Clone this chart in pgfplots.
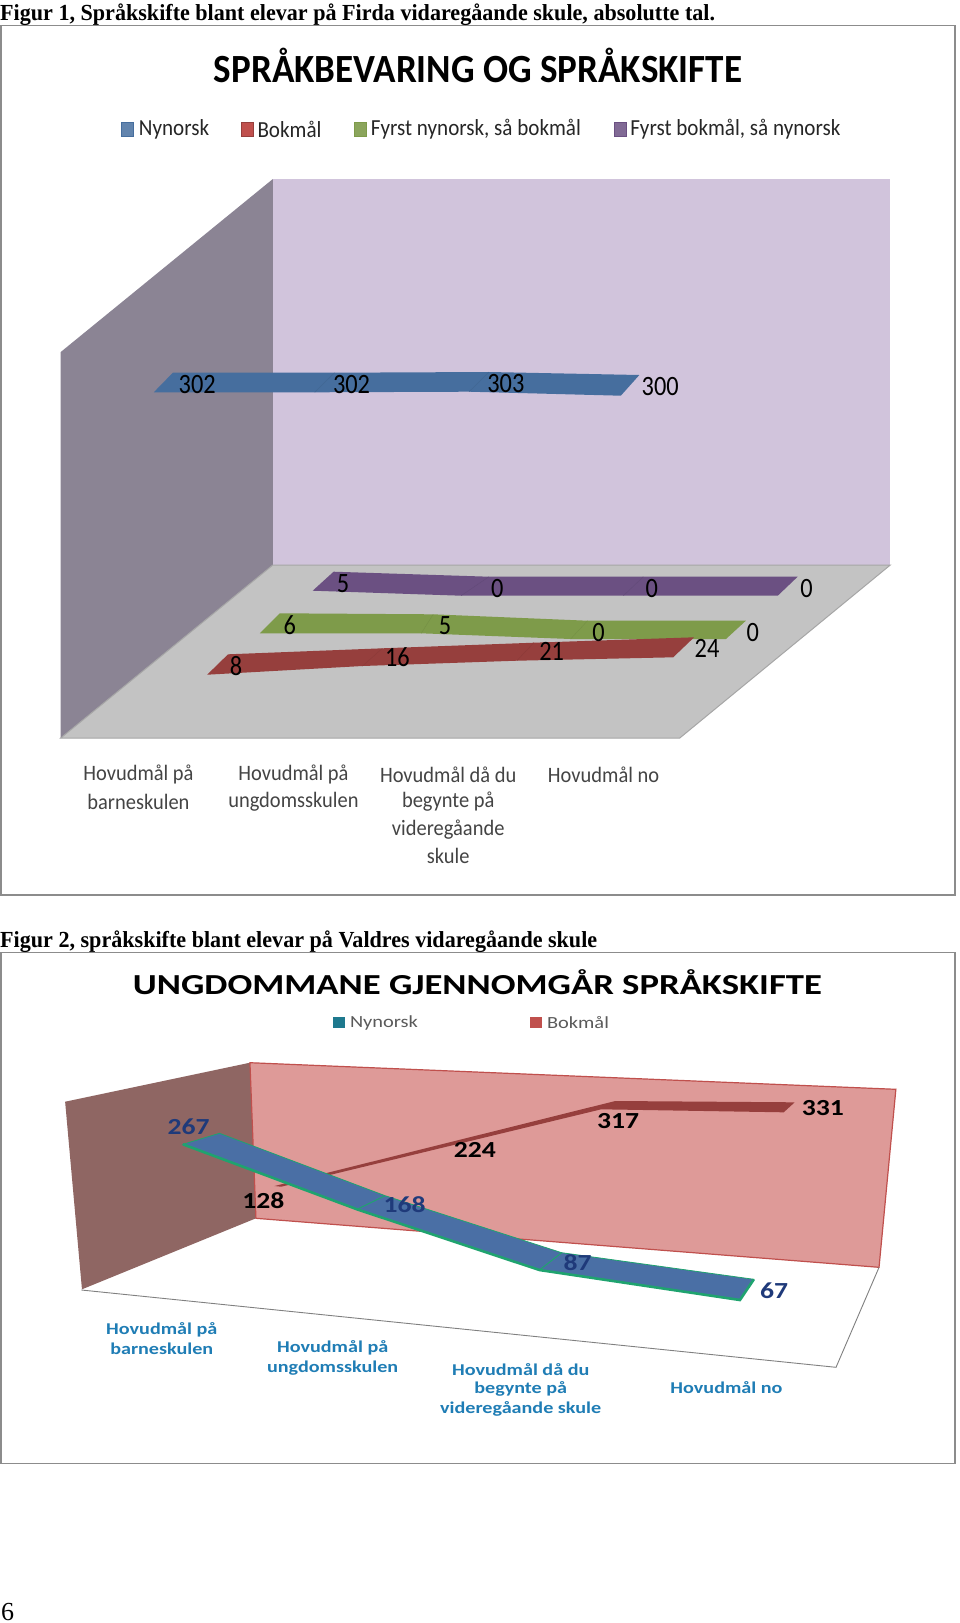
\documentclass[border=0pt]{standalone}
\usepackage{fontspec}
\setmainfont{Carlito}
\newfontfamily\capfont{Liberation Serif}
\usepackage{pgfplots}
\pgfplotsset{compat=1.18}
\definecolor{wallback}{HTML}{D1C4DC}
\definecolor{wallleft}{HTML}{8B8494}
\definecolor{floorc}{HTML}{C3C3C3}
\definecolor{flooredge}{HTML}{A6A6A6}
\definecolor{frame}{HTML}{8C8C8C}
\definecolor{ny}{HTML}{466E9E}
\definecolor{bm}{HTML}{963F3D}
\definecolor{gr}{HTML}{7E9B4A}
\definecolor{pu}{HTML}{6B5082}
\definecolor{wb2}{HTML}{DE9A98}
\definecolor{wl2}{HTML}{8F6663}
\definecolor{redge}{HTML}{C0504D}
\definecolor{gredge}{HTML}{1FA36F}
\definecolor{blue2}{HTML}{4A6FA5}
\definecolor{dblue}{HTML}{1F3A7A}
\definecolor{catblue}{HTML}{1F7DB5}
\definecolor{catgrey}{HTML}{444444}
\definecolor{leggrey}{HTML}{5A5A5A}
\newcommand{\sx}[2]{\scalebox{#1}[1]{#2}}
\pgfplotsset{
  poly/.style={mark=none,sharp plot,forget plot},
  vals/.style={only marks,mark=none,forget plot,nodes near coords={\scalebox{#1}[1]{\pgfplotspointmeta}},point meta=explicit symbolic,
     nodes near coords style={anchor=center,inner sep=0pt}},
}
\begin{document}
\begin{tikzpicture}[txt/.style={inner sep=0pt,align=center}]
\begin{axis}[hide axis,scale only axis,width=960pt,height=1623pt,xmin=0,xmax=964,ymin=0,ymax=1623,y dir=reverse,clip=true]
\addplot[poly,fill=white,draw=none] coordinates {(0,0)(964,0)(964,1623)(0,1623)} --cycle;
% frames
\addplot[poly,draw=frame,line width=1.3pt,fill=white] coordinates {(1,25.5)(959,25.5)(959,895)(1,895)} --cycle;
\addplot[poly,draw=frame,line width=1.1pt,fill=white] coordinates {(1,952.5)(959,952.5)(959,1463.5)(1,1463.5)} --cycle;
% chart 1 walls
\addplot[poly,fill=wallback,draw=none] coordinates {(274,179)(894,179)(894,565)(274,565)} --cycle;
\addplot[poly,fill=wallleft,draw=none] coordinates {(274,179)(61,352)(61,738)(274,565)} --cycle;
\addplot[poly,fill=floorc,draw=flooredge,line width=1pt] coordinates {(274,565)(894,565)(682.6,738)(61,738)} --cycle;
% chart 1 legend swatches
\addplot[poly,fill=ny!85!white,draw=ny] coordinates {(122,122)(134,122)(134,136)(122,136)} --cycle;
\addplot[poly,fill=redge,draw=bm] coordinates {(242,122)(254,122)(254,136)(242,136)} --cycle;
\addplot[poly,fill=gr!90!white,draw=gr] coordinates {(356,122)(368,122)(368,136)(356,136)} --cycle;
\addplot[poly,fill=pu!85!white,draw=pu] coordinates {(616.5,122)(628.5,122)(628.5,136)(616.5,136)} --cycle;
% chart 1 series ribbons
\addplot[poly,fill=pu,draw=none] coordinates {(335,571.7)(491,576.7)(646,576.7)(801,576.7)(781,595.7)(626,595.7)(463,595.7)(314,590.7)} --cycle;
\addplot[poly,draw=pu!92!black,line width=.4pt] coordinates {(491,576.7)(463,595.7)};
\addplot[poly,draw=pu!92!black,line width=.4pt] coordinates {(646,576.7)(626,595.7)};
\addplot[poly,fill=gr,draw=none] coordinates {(281,613.3)(435,614.3)(590,620.7)(749,620.7)(729,639)(573,639)(423,633.3)(261,633.3)} --cycle;
\addplot[poly,draw=gr!92!black,line width=.4pt] coordinates {(435,614.3)(423,633.3)};
\addplot[poly,draw=gr!92!black,line width=.4pt] coordinates {(590,620.7)(573,639)};
\addplot[poly,fill=bm,draw=none] coordinates {(229,654.3)(384,648.3)(536,642.7)(697,637.3)(676,657.3)(519,660.7)(364,666)(208,674.7)} --cycle;
\addplot[poly,draw=bm!92!black,line width=.4pt] coordinates {(384,648.3)(364,666)};
\addplot[poly,draw=bm!92!black,line width=.4pt] coordinates {(536,642.7)(519,660.7)};
\addplot[poly,fill=ny,draw=none] coordinates {(173.6,372.7)(336,372.7)(491,372)(642,375)(623.4,395.7)(471,391.7)(316,392.3)(154.4,392.3)} --cycle;
\addplot[poly,draw=ny!92!black,line width=.4pt] coordinates {(336,372.7)(316,392.3)};
\addplot[poly,draw=ny!92!black,line width=.4pt] coordinates {(491,372)(471,391.7)};
% chart 1 values
\addplot[vals=0.87,nodes near coords style={font=\fontsize{28}{28}\selectfont,text=black}] table[meta=v] {
x y v
198 384.5 302
353 384.5 302
508 383.8 303
663 386.5 300
};
\addplot[vals=0.87,nodes near coords style={font=\fontsize{28}{28}\selectfont,text=black}] table[meta=v] {
x y v
237 666 8
399 657.3 16
554 651.7 21
710 648.3 24
};
\addplot[vals=0.87,nodes near coords style={font=\fontsize{28}{28}\selectfont,text=black}] table[meta=v] {
x y v
291 625 6
447 626 5
601 632.7 0
756 632.3 0
};
\addplot[vals=0.87,nodes near coords style={font=\fontsize{28}{28}\selectfont,text=black}] table[meta=v] {
x y v
344.4 583.5 5
499.4 588.3 0
654.4 588.3 0
810 588.3 0
};
% chart 2 walls
\addplot[poly,fill=wl2,draw=none] coordinates {(65.4,1101.7)(251,1062.7)(257,1218.3)(82.3,1289.3)} --cycle;
\addplot[poly,fill=wb2,draw=redge,line width=1.2pt] coordinates {(251,1062.7)(899.6,1089.3)(882.7,1267.3)(257,1218.3)} --cycle;
\addplot[poly,draw=gray,line width=.9pt] coordinates {(81.8,1290)(839.5,1367.3)(882.7,1267.3)};
% chart 2 legend swatches
\addplot[poly,fill=teal!60!blue2,draw=none] coordinates {(334,1017)(346,1017)(346,1028)(334,1028)} --cycle;
\addplot[poly,fill=redge,draw=none] coordinates {(532.6,1017)(544,1017)(544,1028)(532.6,1028)} --cycle;
% chart 2 series ribbons
\addplot[poly,fill=bm,draw=none] coordinates {(275.6,1186)(617.8,1101)(798,1102.3)(787,1112.3)(603.7,1109.3)(282.4,1186.7)} --cycle;
\addplot[poly,fill=blue2,draw=gredge,line width=.8pt] coordinates {(220.4,1133.3)(386.7,1195.7)(564,1252.7)(757,1279.3)(743,1300)(541.7,1270)(358.5,1209.3)(183.7,1144.3)} --cycle;
\addplot[poly,draw=gredge,line width=2.6pt] coordinates {(757,1279.3)(743,1300)(541.7,1270)(358.5,1209.3)(183.7,1144.3)};
\addplot[poly,draw=gredge,line width=1pt] coordinates {(386.7,1195.7)(358.5,1209.3)};
\addplot[poly,draw=gredge,line width=1pt] coordinates {(564,1252.7)(541.7,1270)};
% chart 2 values
\addplot[vals=1.2,nodes near coords style={font=\bfseries\fontsize{23}{23}\selectfont,text=dblue}] table[meta=v] {
x y v
189.4 1126.7 267
406.4 1204.3 168
580 1262.7 87
777.3 1290.7 67
};
\addplot[vals=1.2,nodes near coords style={font=\bfseries\fontsize{23}{23}\selectfont,text=black}] table[meta=v] {
x y v
264.4 1201 128
476.9 1150 224
620.6 1121 317
826.4 1107.7 331
};
\end{axis}
% text in page units (1pt = 1 reference pixel, origin bottom-left)
\node[anchor=west,txt,font=\capfont\bfseries\fontsize{23}{23}\selectfont] at (0pt,{1623pt-14.5pt}) {\sx{0.961}{Figur 1, Språkskifte blant elevar på Firda vidaregåande skule, absolutte tal.}};
\node[anchor=west,txt,font=\capfont\bfseries\fontsize{23}{23}\selectfont] at (0pt,{1623pt-941.5pt}) {\sx{0.961}{Figur 2, språkskifte blant elevar på Valdres vidaregåande skule}};
\node[anchor=west,txt,font=\capfont\fontsize{26}{26}\selectfont] at (1pt,{1623pt-1612pt}) {6};
% chart 1 title and legend
\node[txt,font=\bfseries\fontsize{40}{40}\selectfont] at (478pt,{1623pt-65pt}) {\sx{0.927}{SPRÅKBEVARING OG SPRÅKSKIFTE}};
\foreach \x/\t in {174/Nynorsk,289.5/Bokmål,475.9/{Fyrst nynorsk, så bokmål},735.3/{Fyrst bokmål, så nynorsk}}
  \node[txt,text=black!85,font=\fontsize{23}{23}\selectfont] at (\x pt,{1623pt-129pt}) {\sx{0.917}{\t}};
% chart 1 categories
\foreach \x/\y/\t in {139/774.7/Hovudmål på,139/801.7/barneskulen,294.6/774.7/Hovudmål på,294.6/801.7/ungdomsskulen,450/774.7/Hovudmål då du,450/801.7/begynte på,450/829.3/videregåande,450/856/skule,606/774.7/Hovudmål no}
  \node[txt,text=catgrey,font=\fontsize{22}{22}\selectfont] at ({0.996*\x pt},{1623pt-\y pt}) {\sx{0.93}{\t}};
% chart 2 title and legend
\node[txt,font=\bfseries\fontsize{29}{29}\selectfont] at (477.4pt,{1623pt-982pt}) {\sx{1.265}{UNGDOMMANE GJENNOMGÅR SPRÅKSKIFTE}};
\node[txt,text=leggrey,font=\fontsize{17}{17}\selectfont] at (384pt,{1623pt-1022.7pt}) {\sx{1.2}{Nynorsk}};
\node[txt,text=leggrey,font=\fontsize{17}{17}\selectfont] at (578pt,{1623pt-1022.7pt}) {\sx{1.2}{Bokmål}};
% chart 2 categories
\foreach \x/\y/\t in {162.4/1330/Hovudmål på,162.4/1349/barneskulen,334/1348.3/Hovudmål på,334/1368/ungdomsskulen,522.8/1369.3/Hovudmål då du,522.8/1389.3/begynte på,522.8/1409.3/videregåande skule,729.4/1387.3/Hovudmål no}
  \node[txt,text=catblue,font=\bfseries\fontsize{16.5}{16.5}\selectfont] at ({0.996*\x pt},{1623pt-\y pt}) {\sx{1.22}{\t}};
\end{tikzpicture}
\end{document}
